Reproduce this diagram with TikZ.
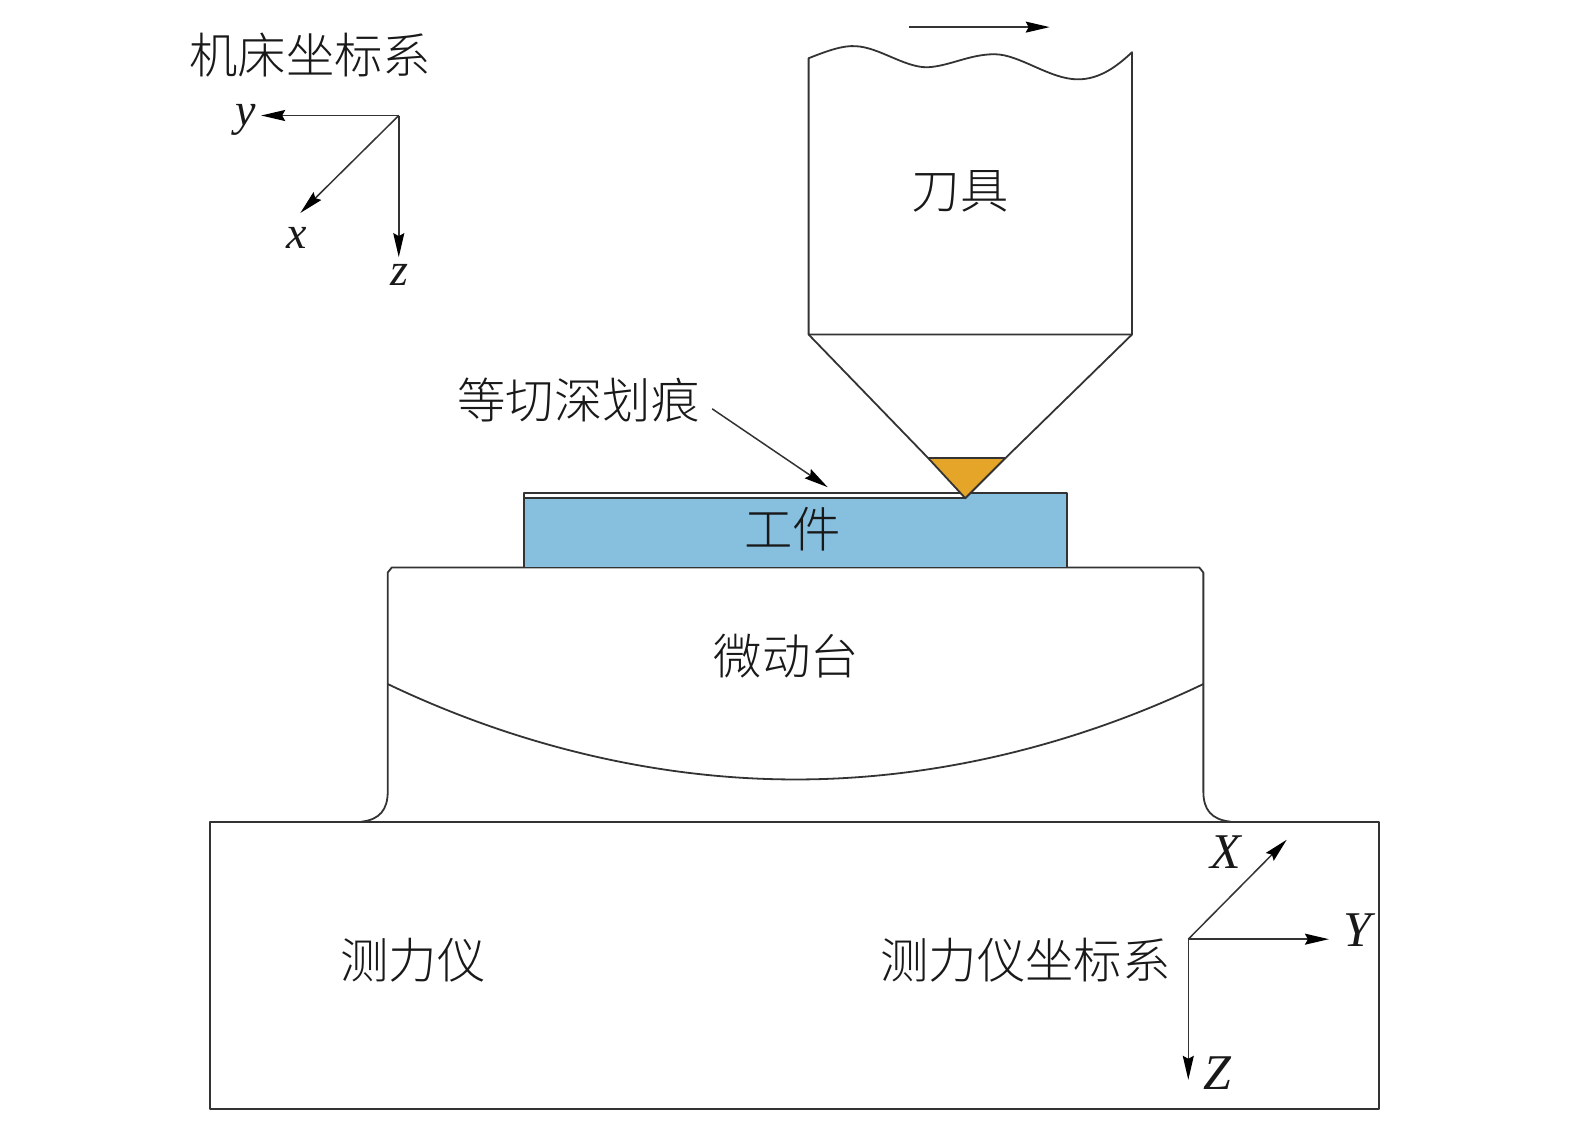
\documentclass[tikz,border=0pt]{standalone}
\usepackage{fontspec}
\usetikzlibrary{arrows.meta}
\setmainfont{Liberation Serif}
\newfontfamily\cjk[UprightFont=* Light]{Noto Sans CJK SC}
\definecolor{linec}{HTML}{333333}
\definecolor{workblue}{HTML}{87BFDF}
\definecolor{tipor}{HTML}{E5A528}
\tikzset{
  outline/.style={draw=linec,line width=0.9pt,line join=round},
  pointer/.style={draw=linec,line width=0.75pt,-{Stealth[length=12pt,width=5.5pt,inset=1.5pt,color=black]}},
  cjklabel/.style={inner sep=0pt,font=\cjk\fontsize{24.2}{24.2}\selectfont,text=black!90},
  axlabel/.style={inner sep=0pt,font=\itshape\fontsize{25}{25}\selectfont,text=black!90},
  axsmall/.style={inner sep=0pt,font=\itshape\fontsize{23}{23}\selectfont,text=black!90}
}
\begin{document}
\begin{tikzpicture}[x=0.50223pt,y=-0.50223pt]
\useasboundingbox (0,0) rectangle (1568,1117);
% dynamometer
\draw[outline] (209,818) rectangle (1373,1104);
% stage
\draw[outline] (360,818) .. controls (378,816) and (386,806) .. (386,788) -- (386,570) -- (390,565) -- (1194,565) -- (1198,570) -- (1198,788) .. controls (1198,806) and (1206,816) .. (1225,818);
\draw[outline] (386,681) .. controls (520,745) and (660,776) .. (792,776) .. controls (924,776) and (1064,745) .. (1198,681);
% workpiece
\fill[workblue] (522,491) rectangle (1062,565);
\fill[white] (522,491) rectangle (961,496);
\draw[outline] (522,565) -- (522,491) -- (1062,491) -- (1062,565) -- cycle;
\draw[outline] (522,496) -- (961,496);
% tool
\draw[outline] (805,333) -- (805,58) .. controls (825,50) and (840,45) .. (852,46) .. controls (875,47) and (900,67) .. (923,67) .. controls (945,66) and (965,54) .. (990,54) .. controls (1015,54) and (1045,79) .. (1073,79) .. controls (1095,79) and (1112,66) .. (1127,52) -- (1127,333) -- cycle;
\draw[outline] (805,333) -- (924,456);
\draw[outline] (1127,333) -- (1001,456);
\draw[outline,fill=tipor] (924,456) -- (1001,456) -- (961,496) -- cycle;
% labels
\node[cjklabel] (mach) at (309,55) {机床坐标系};
\node[cjklabel] (tool) at (956,191) {刀具};
\node[cjklabel] (scratch) at (576,398) {等切深划痕};
\node[cjklabel] (work) at (789,527) {工件};
\node[cjklabel] (stagel) at (783,653) {微动台};
\node[cjklabel] (dyno) at (411,956) {测力仪};
\node[cjklabel] (dynoc) at (1021,956) {测力仪坐标系};
% direction arrows
\coordinate (feedA) at (905,27);
\coordinate (feedB) at (1045,27);
\draw[pointer] (feedA) -- (feedB);
\coordinate (scrA) at (709,407);
\coordinate (scrB) at (824,485);
\draw[pointer] (scrA) -- (scrB);
% machine axes
\coordinate (O1) at (397,115);
\coordinate (y1) at (260,115);
\coordinate (x1) at (299,212);
\coordinate (z1) at (397,256);
\draw[pointer] (O1) -- (y1);
\draw[pointer] (O1) -- (x1);
\draw[pointer] (O1) -- (z1);
\node[axsmall] (ly) at (245,119) {y};
\node[axsmall] (lx) at (295,237) {x};
\node[axsmall] (lz) at (398,274) {z};
% dynamometer axes
\coordinate (O2) at (1183,935);
\coordinate (X2) at (1281,836);
\coordinate (Y2) at (1323,935);
\coordinate (Z2) at (1183,1075);
\draw[pointer] (O2) -- (X2);
\draw[pointer] (O2) -- (Y2);
\draw[pointer] (O2) -- (Z2);
\node[axlabel] (lX) at (1220,848) {X};
\node[axlabel] (lY) at (1351,926) {Y};
\node[axlabel] (lZ) at (1212,1068) {Z};
\end{tikzpicture}
\end{document}
